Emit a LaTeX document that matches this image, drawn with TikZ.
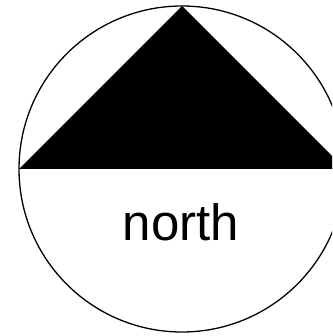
\documentclass[tikz,border=0pt]{standalone}
\usepackage{fontspec}
\setmainfont{Liberation Sans}
\begin{document}
\begin{tikzpicture}[x=1pt,y=-1pt,
  ring/.style={draw=black,line width=1.3pt},
  label/.style={font=\fontsize{51}{51}\selectfont,inner sep=0pt,anchor=base}]
\useasboundingbox (0,0) rectangle (332,336);
\clip (0,0) rectangle (332,336);
\coordinate (c) at (182,169);
\coordinate (apex) at (182,6);
\coordinate (left) at (19,169);
\coordinate (right) at (345,169);
\fill[black] (left) -- (apex) -- (right) -- cycle;
\draw[ring] (c) circle[radius=163];
\draw[black,line width=1pt] (left) -- (right);
\node[label] (txt) at (181,240) {north};
\end{tikzpicture}
\end{document}
